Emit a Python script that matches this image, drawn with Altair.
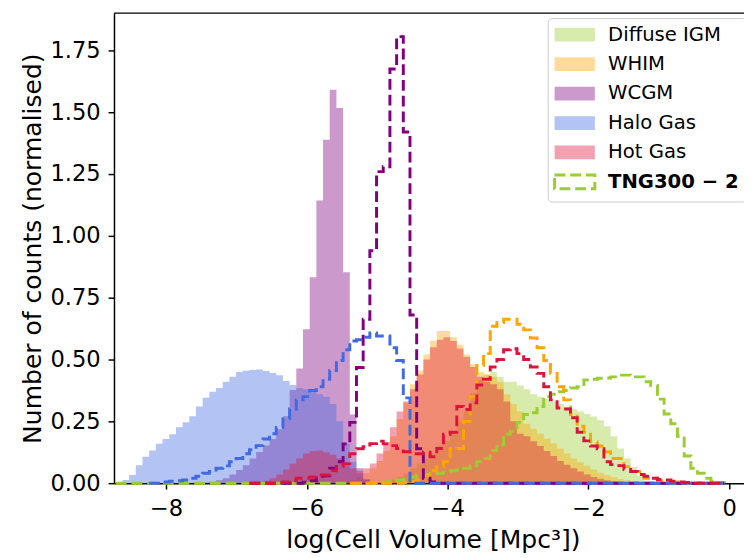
import altair as alt
import pandas as pd

# ---- common histogram grid (left edge of first bin, bin width, number of bins) ----
BIN0 = -8.715
BW = 0.095
NBINS = 91

# ---- filled histograms (alpha 0.4) : first bin index and heights ----
fill_names = ["Diffuse IGM", "WHIM", "WCGM", "Halo Gas", "Hot Gas"]
fill_colors = ["#9acd32", "#ffa500", "#800080", "#4169e1", "#dc143c"]

igm_start = 38
igm_vals = [0.003, 0.006, 0.01, 0.015, 0.025, 0.04, 0.06, 0.08, 0.1, 0.12, 0.15, 0.17, 0.2, 0.246,
            0.29, 0.365, 0.417, 0.44, 0.45, 0.43, 0.41, 0.41, 0.395, 0.38, 0.36, 0.35, 0.34, 0.33,
            0.32, 0.31, 0.3, 0.29, 0.28, 0.27, 0.255, 0.23, 0.19, 0.14, 0.1, 0.065, 0.03, 0.01, 0.004]

whim_start = 32
whim_vals = [0.003, 0.005, 0.008, 0.012, 0.025, 0.04, 0.06, 0.09, 0.13, 0.19, 0.26, 0.325, 0.4,
             0.456, 0.52, 0.575, 0.615, 0.615, 0.59, 0.56, 0.52, 0.48, 0.45, 0.44, 0.43, 0.41,
             0.36, 0.32, 0.29, 0.24, 0.22, 0.2, 0.18, 0.16, 0.14, 0.12, 0.1, 0.085, 0.07, 0.055,
             0.042, 0.032, 0.024, 0.017, 0.012, 0.008, 0.005, 0.003]

wcgm_start = 13
wcgm_vals = [0.003, 0.006, 0.012, 0.02, 0.035, 0.053, 0.073, 0.1, 0.126, 0.152, 0.179, 0.218,
             0.271, 0.377, 0.464, 0.623, 0.833, 1.143, 1.389, 1.591, 1.517, 0.853, 0.278, 0.06,
             0.015, 0.005]

halo_start = 0
halo_vals = [0.005, 0.013, 0.033, 0.073, 0.107, 0.132, 0.159, 0.179, 0.198, 0.226, 0.246, 0.271,
             0.31, 0.345, 0.37, 0.385, 0.41, 0.43, 0.45, 0.455, 0.458, 0.46, 0.454, 0.446, 0.437,
             0.413, 0.397, 0.385, 0.38, 0.377, 0.36, 0.35, 0.32, 0.25, 0.159, 0.087, 0.04, 0.015,
             0.005]

hot_start = 21
hot_vals = [0.005, 0.01, 0.02, 0.035, 0.055, 0.079, 0.1, 0.12, 0.13, 0.132, 0.125, 0.115, 0.1,
            0.08, 0.06, 0.05, 0.06, 0.08, 0.12, 0.167, 0.226, 0.29, 0.33, 0.38, 0.44, 0.5, 0.55,
            0.58, 0.59, 0.575, 0.545, 0.51, 0.47, 0.43, 0.41, 0.4, 0.38, 0.33, 0.25, 0.2, 0.19,
            0.17, 0.15, 0.13, 0.11, 0.09, 0.075, 0.06, 0.047, 0.035, 0.025, 0.018, 0.012, 0.008,
            0.005, 0.003]

# ---- dashed step histograms (TNG300-2): colour, range of bins, first data bin, heights ----
igm2_color, igm2_range = "#9acd32", (0, 91)
igm2_start = 40
igm2_vals = [0.005, 0.008, 0.013, 0.015, 0.025, 0.033, 0.035, 0.04, 0.04, 0.045, 0.05, 0.053,
             0.06, 0.07, 0.087, 0.1, 0.132, 0.155, 0.198, 0.21, 0.246, 0.278, 0.285, 0.31, 0.35,
             0.36, 0.37, 0.375, 0.385, 0.39, 0.417, 0.42, 0.424, 0.425, 0.43, 0.437, 0.437, 0.43,
             0.43, 0.41, 0.395, 0.34, 0.28, 0.24, 0.19, 0.11, 0.06, 0.04, 0.02, 0.008, 0.003]

whim2_color, whim2_range = "#ffa500", (35, 91)
whim2_start = 43
whim2_vals = [0.003, 0.008, 0.013, 0.03, 0.05, 0.067, 0.087, 0.139, 0.14, 0.25, 0.35, 0.476,
              0.524, 0.635, 0.65, 0.663, 0.663, 0.643, 0.62, 0.587, 0.548, 0.496, 0.444, 0.39,
              0.337, 0.278, 0.23, 0.206, 0.167, 0.15, 0.127, 0.1, 0.1, 0.067, 0.047, 0.047, 0.02,
              0.02, 0.01, 0.01, 0.005, 0.003]

wcgm2_color, wcgm2_range = "#800080", (20, 91)
wcgm2_start = 28
wcgm2_vals = [0.004, 0.01, 0.028, 0.03, 0.06, 0.087, 0.159, 0.246, 0.468, 0.663, 0.94, 1.26,
              1.28, 1.675, 1.806, 1.42, 0.68, 0.139, 0.02, 0.005]

halo2_color, halo2_range = "#4169e1", (5, 91)
halo2_start = 7
halo2_vals = [0.005, 0.008, 0.01, 0.013, 0.02, 0.028, 0.04, 0.047, 0.06, 0.07, 0.087, 0.1, 0.119,
              0.135, 0.152, 0.179, 0.2, 0.225, 0.26, 0.3, 0.337, 0.35, 0.375, 0.39, 0.42, 0.456,
              0.496, 0.54, 0.575, 0.58, 0.59, 0.607, 0.595, 0.595, 0.548, 0.496, 0.345]

hot2_color, hot2_range = "#dc143c", (20, 91)
hot2_start = 24
hot2_vals = [0.003, 0.005, 0.01, 0.02, 0.02, 0.025, 0.033, 0.033, 0.05, 0.067, 0.079, 0.119,
             0.139, 0.147, 0.16, 0.17, 0.159, 0.152, 0.14, 0.127, 0.119, 0.119, 0.125, 0.107,
             0.14, 0.198, 0.206, 0.31, 0.298, 0.325, 0.397, 0.42, 0.47, 0.5, 0.54, 0.544, 0.524,
             0.5, 0.47, 0.444, 0.39, 0.337, 0.304, 0.3, 0.265, 0.206, 0.171, 0.15, 0.139, 0.087,
             0.075, 0.071, 0.055, 0.047, 0.035, 0.028, 0.02, 0.015, 0.013, 0.008, 0.005, 0.003]

# ---- legend ----
legend_names = ["Diffuse IGM", "WHIM", "WCGM", "Halo Gas", "Hot Gas", "TNG300 \u2212 2"]
legend_fill = ["rgba(154,205,50,0.4)", "rgba(255,165,0,0.4)", "rgba(128,0,128,0.4)",
               "rgba(65,105,225,0.4)", "rgba(220,20,60,0.4)", "rgba(0,0,0,0)"]
legend_stroke = ["rgba(0,0,0,0)"] * 5 + ["#9acd32"]

x_ticks = [-8, -6, -4, -2, 0]
y_ticks = [0, 0.25, 0.5, 0.75, 1.0, 1.25, 1.5, 1.75]


def edge(i):
    return BIN0 + BW * i


# area rows (step-after)
area_rows = []
for name, start, vals in [("Diffuse IGM", igm_start, igm_vals), ("WHIM", whim_start, whim_vals),
                          ("WCGM", wcgm_start, wcgm_vals), ("Halo Gas", halo_start, halo_vals),
                          ("Hot Gas", hot_start, hot_vals)]:
    for j, v in enumerate(vals):
        area_rows.append({"x": edge(start + j), "y": v, "s": name})
    area_rows.append({"x": edge(start + len(vals)), "y": vals[-1], "s": name})
area_df = pd.DataFrame(area_rows)

FONT = "DejaVu Sans"

X = alt.X("x:Q", scale=alt.Scale(domain=[-8.74, 0.21], nice=False, zero=False),
          axis=alt.Axis(values=x_ticks, format="d", title="log(Cell Volume [Mpc\u00b3])",
                        labelFontSize=23, titleFontSize=25.5, tickSize=6, labelPadding=9,
                        titlePadding=8, titleX=325))
Y = alt.Y("y:Q", stack=None, scale=alt.Scale(domain=[0, 1.901], nice=False),
          axis=alt.Axis(values=y_ticks, format=".2f", title="Number of counts (normalised)",
                        labelFontSize=23, titleFontSize=25.5, tickSize=6, labelPadding=8,
                        titlePadding=5))

color_scale = alt.Scale(domain=fill_names, range=fill_colors)

areas = alt.Chart(area_df).mark_area(interpolate="step-after", opacity=0.4).encode(
    x=X, y=Y, color=alt.Color("s:N", scale=color_scale, legend=None)
)

# dashed layers, drawn in this order
line_layers = []
for color, rng, start, vals in [(igm2_color, igm2_range, igm2_start, igm2_vals),
                                (whim2_color, whim2_range, whim2_start, whim2_vals),
                                (wcgm2_color, wcgm2_range, wcgm2_start, wcgm2_vals),
                                (halo2_color, halo2_range, halo2_start, halo2_vals),
                                (hot2_color, hot2_range, hot2_start, hot2_vals)]:
    full = [0.0] * NBINS
    for j, v in enumerate(vals):
        full[start + j] = v
    lo, hi = rng
    rows = [{"x": edge(lo), "y": 0.0, "i": 0}]
    for j in range(lo, hi):
        rows.append({"x": edge(j), "y": full[j], "i": j - lo + 1})
    rows.append({"x": edge(hi), "y": 0.0, "i": hi - lo + 1})
    line_layers.append(
        alt.Chart(pd.DataFrame(rows)).mark_line(
            interpolate="step-after", strokeWidth=3, strokeDash=[11, 5], strokeCap="butt",
            color=color
        ).encode(x=X, y=Y, order=alt.Order("i:Q"))
    )

top = alt.Chart(pd.DataFrame({"a": [0]})).mark_rule(color="black", strokeWidth=1.5).encode(
    y=alt.value(0)
)

leg = alt.Legend(
    title=None, orient="none", legendX=442, legendY=5, padding=7,
    fillColor="rgba(255,255,255,0.8)", strokeColor="#cccccc", cornerRadius=4,
    labelFont=FONT, labelFontSize=20, labelColor="black",
    labelFontWeight=alt.ExprRef("datum.label == 'TNG300 \u2212 2' ? 'bold' : 'normal'"),
    symbolType="M-2.93,-1H2.93V1H-2.93Z", symbolSize=196, symbolOffset=10.5,
    labelOffset=24, rowPadding=4, symbolStrokeWidth=3, symbolDash=[11, 5],
)
legend_df = pd.DataFrame({"legend": legend_names})
legend_layer = alt.Chart(legend_df).mark_rect().encode(
    fill=alt.Fill("legend:N", scale=alt.Scale(domain=legend_names, range=legend_fill), legend=leg),
    stroke=alt.Stroke("legend:N", scale=alt.Scale(domain=legend_names, range=legend_stroke), legend=leg),
).transform_filter("false")

chart = alt.layer(areas, *line_layers, top, legend_layer).properties(
    width=642, height=479,
    autosize="none",
    padding={"left": 108, "top": 0, "right": 0, "bottom": 70},
).configure_view(stroke=None).configure_axis(
    labelFont=FONT, titleFont=FONT, labelColor="black", titleColor="black",
    domainColor="black", tickColor="black", domainWidth=1.5, tickWidth=1.5,
    grid=False, titleFontWeight="normal"
)

chart.save("out.html", embed_options={"renderer": "svg", "actions": False})
